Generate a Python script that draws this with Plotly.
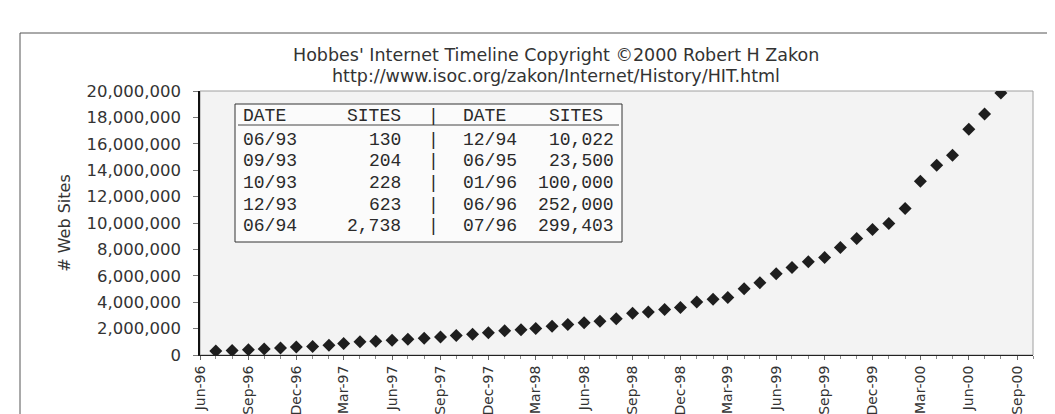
import plotly.graph_objects as go
import pandas as pd

# ---------------- data ----------------
months = [
    "Jul-96", "Aug-96", "Sep-96", "Oct-96", "Nov-96", "Dec-96",
    "Jan-97", "Feb-97", "Mar-97", "Apr-97", "May-97", "Jun-97",
    "Jul-97", "Aug-97", "Sep-97", "Oct-97", "Nov-97", "Dec-97",
    "Jan-98", "Feb-98", "Mar-98", "Apr-98", "May-98", "Jun-98",
    "Jul-98", "Aug-98", "Sep-98", "Oct-98", "Nov-98", "Dec-98",
    "Jan-99", "Feb-99", "Mar-99", "Apr-99", "May-99", "Jun-99",
    "Jul-99", "Aug-99", "Sep-99", "Oct-99", "Nov-99", "Dec-99",
    "Jan-00", "Feb-00", "Mar-00", "Apr-00", "May-00", "Jun-00",
    "Jul-00", "Aug-00",
]
web_sites = [
    299403, 340000, 400000, 460000, 530000, 600000,
    650000, 740000, 880000, 1000000, 1040000, 1120000,
    1200000, 1270000, 1360000, 1470000, 1570000, 1680000,
    1830000, 1920000, 2000000, 2180000, 2310000, 2450000,
    2560000, 2740000, 3160000, 3250000, 3440000, 3600000,
    4020000, 4230000, 4350000, 5020000, 5480000, 6160000,
    6620000, 7070000, 7380000, 8140000, 8820000, 9510000,
    9960000, 11100000, 13160000, 14370000, 15130000, 17100000,
    18250000, 19850000,
]

table_dates_left = ["06/93", "09/93", "10/93", "12/93", "06/94"]
table_sites_left = [130, 204, 228, 623, 2738]
table_dates_right = ["12/94", "06/95", "01/96", "06/96", "07/96"]
table_sites_right = [10022, 23500, 100000, 252000, 299403]

title_line1 = "Hobbes' Internet Timeline Copyright \u00a92000 Robert H Zakon"
title_line2 = "http://www.isoc.org/zakon/Internet/History/HIT.html"
y_title = "# Web Sites"

# ---------------- layout geometry (pixels) ----------------
W, H = 1055, 414
L, R, T, B = 192, 1025, 83, 347


def px_x(px):
    return (px - L) / (R - L)


def px_y(py):
    return (B - py) / (B - T)


x_dates = pd.to_datetime(months, format="%b-%y")

fig = go.Figure()
fig.add_trace(go.Scatter(
    x=x_dates, y=web_sites, mode="markers",
    marker=dict(symbol="diamond", size=10, color="#1e1e1e",
                line=dict(width=0)),
    showlegend=False, hoverinfo="x+y",
))

font_sans = "DejaVu Sans"
font_mono = "Liberation Mono"
txt_col = "#333333"

shapes = []
# plot-area border (grey)
shapes.append(dict(type="rect", xref="paper", yref="paper", x0=0, x1=1, y0=0, y1=1,
                   line=dict(color="#a0a0a0", width=1), layer="below"))
# outer frame (top + left)
shapes.append(dict(type="line", xref="paper", yref="paper",
                   x0=px_x(12), x1=px_x(1040), y0=px_y(25), y1=px_y(25),
                   line=dict(color="#555555", width=1)))
shapes.append(dict(type="line", xref="paper", yref="paper",
                   x0=px_x(12), x1=px_x(12), y0=px_y(25), y1=px_y(414),
                   line=dict(color="#555555", width=1)))
# table box
shapes.append(dict(type="rect", xref="paper", yref="paper",
                   x0=px_x(227), x1=px_x(614), y0=px_y(234), y1=px_y(96),
                   line=dict(color="#333333", width=1), fillcolor="#fbfbfb"))
# header underline
shapes.append(dict(type="line", xref="paper", yref="paper",
                   x0=px_x(230), x1=px_x(611), y0=px_y(117), y1=px_y(117),
                   line=dict(color="#444444", width=1)))

annotations = []
annotations.append(dict(text=title_line1, xref="paper", yref="paper",
                        x=px_x(548), y=px_y(47), showarrow=False,
                        xanchor="center", yanchor="middle",
                        font=dict(family=font_sans, size=17.5, color=txt_col)))
annotations.append(dict(text=title_line2, xref="paper", yref="paper",
                        x=px_x(548), y=px_y(68), showarrow=False,
                        xanchor="center", yanchor="middle",
                        font=dict(family=font_sans, size=17.5, color=txt_col)))

mono = dict(family=font_mono, size=18, color="#2a2a2a")
col_d1, col_s1, col_bar, col_d2, col_s2 = 233, 395, 425, 453, 608
row_y = [108, 131.5, 153, 175, 196.5, 218]

header = ("DATE", "SITES", "|", "DATE", "SITES")
rows = [header] + [
    (d1, f"{s1:,}", "|", d2, f"{s2:,}")
    for d1, s1, d2, s2 in zip(table_dates_left, table_sites_left,
                              table_dates_right, table_sites_right)
]
for r, (d1, s1, bar, d2, s2) in enumerate(rows):
    yy = px_y(row_y[r])
    s2x = 597 if r == 0 else col_s2
    for text, xp, anc in ((d1, col_d1, "left"), (s1, col_s1, "right"),
                          (bar, col_bar, "center"), (d2, col_d2, "left"),
                          (s2, s2x, "right")):
        annotations.append(dict(text=text, xref="paper", yref="paper",
                                x=px_x(xp), y=yy, showarrow=False,
                                xanchor=anc, yanchor="middle", font=mono))

fig.update_layout(
    width=W, height=H,
    margin=dict(l=L, r=W - R, t=T, b=H - B, autoexpand=False),
    paper_bgcolor="white", plot_bgcolor="#f3f3f3",
    shapes=shapes, annotations=annotations,
    xaxis=dict(
        type="date", range=["1996-06-01", "2000-10-01"],
        tick0="1996-06-01", dtick="M3", tickformat="%b-%y",
        tickangle=-90, ticks="outside", ticklen=4, tickcolor="#666666",
        minor=dict(dtick="M1", ticks="outside", ticklen=3, tickcolor="#888888"),
        showgrid=False, zeroline=False,
        showline=True, linecolor="#222222", linewidth=1,
        tickfont=dict(family=font_sans, size=14, color=txt_col),
        automargin=False,
    ),
    yaxis=dict(
        range=[0, 20000000], dtick=2000000, tickformat=",.0f",
        ticks="outside", ticklen=5, tickcolor="#777777",
        ticklabelstandoff=9,
        showgrid=False, zeroline=False,
        showline=True, linecolor="#111111", linewidth=1.5,
        tickfont=dict(family=font_sans, size=16.5, color=txt_col),
        title=dict(text=y_title, standoff=12,
                   font=dict(family=font_sans, size=16, color=txt_col)),
        automargin=False,
    ),
)

fig.write_html("out.html")
